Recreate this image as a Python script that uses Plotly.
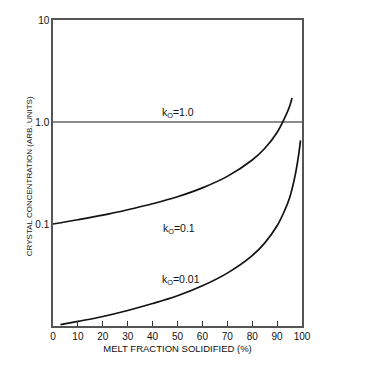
import math
import plotly.graph_objects as go

# Melt fraction solidified (%) and crystal concentration (arb. units)
x_k1 = [0, 100]
y_k1 = [1.0, 1.0]

x_k01 = [0, 10, 20, 30, 40, 50, 60, 70, 80, 85, 90, 93, 95, 96]
y_k01 = [0.100, 0.110, 0.122, 0.138, 0.158, 0.185, 0.226, 0.293, 0.424, 0.55, 0.79, 1.09, 1.42, 1.72]

x_k001 = [3, 10, 20, 30, 40, 50, 60, 70, 80, 85, 90, 93, 95, 97, 98.5, 99.4]
y_k001 = [0.0103, 0.0111, 0.0124, 0.0142, 0.0166, 0.0198, 0.0248, 0.033, 0.049, 0.065, 0.096, 0.135, 0.18, 0.28, 0.45, 0.66]

x_ticks = list(range(0, 101, 10))
y_tickvals = [0.1, 1, 10]
y_ticktext = ["0.1", "1.0", "10"]

labels = ["k<sub>O</sub>=1.0", "k<sub>O</sub>=0.1", "k<sub>O</sub>=0.01"]
label_x = [50.2, 50.5, 51.6]
label_y = [1.22, 0.089, 0.0285]

y_title = "CRYSTAL CONCENTRATION (ARB. UNITS)"
x_title = "MELT FRACTION SOLIDIFIED (%)"

font = "Liberation Sans"

fig = go.Figure()
fig.add_trace(go.Scatter(x=x_k1, y=y_k1, mode="lines",
                         line=dict(color="#666666", width=1.5), showlegend=False))
fig.add_trace(go.Scatter(x=x_k01, y=y_k01, mode="lines", line_shape="spline",
                         line=dict(color="#111111", width=1.7), showlegend=False))
fig.add_trace(go.Scatter(x=x_k001, y=y_k001, mode="lines", line_shape="spline",
                         line=dict(color="#111111", width=1.7), showlegend=False))

for t, lx, ly in zip(labels, label_x, label_y):
    fig.add_annotation(x=lx, y=math.log10(ly), text=t, showarrow=False,
                       font=dict(family=font, size=10.5, color="#111111"))

fig.add_annotation(x=-0.096, y=0.49, xref="paper", yref="paper", text=y_title,
                   textangle=-90, showarrow=False, xanchor="center", yanchor="middle",
                   font=dict(family=font, size=8, color="#111111"))

fig.update_layout(
    width=374, height=365,
    margin=dict(l=45, r=80, t=6, b=47),
    paper_bgcolor="white", plot_bgcolor="white",
    font=dict(family=font, size=9, color="#111111"),
)
fig.update_xaxes(range=[0, 100], tickvals=x_ticks, ticktext=[str(v) for v in x_ticks],
                 ticks="inside", ticklen=5, tickcolor="#333333", tickwidth=1,
                 showline=True, mirror=True, linecolor="#555555", linewidth=1.5,
                 showgrid=False, zeroline=False,
                 title=dict(text=x_title, font=dict(size=9.5), standoff=5),
                 tickfont=dict(size=10))
fig.update_yaxes(type="log", range=[-2, 1], tickvals=y_tickvals, ticktext=y_ticktext,
                 ticks="", showline=True, mirror=True, linecolor="#555555", linewidth=1.5,
                 showgrid=False, zeroline=False,
                 tickfont=dict(size=10))

fig.write_html("out.html")
